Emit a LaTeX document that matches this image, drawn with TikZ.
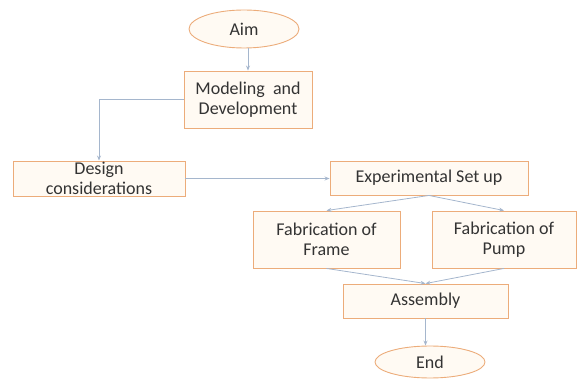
\documentclass[tikz,border=0pt]{standalone}
\usepackage{fontspec}
\setmainfont{Carlito}
\usetikzlibrary{shapes.geometric,arrows.meta}
\definecolor{boxline}{RGB}{236,172,122}
\definecolor{boxfill}{RGB}{255,250,243}
\definecolor{flowline}{RGB}{165,182,205}
\begin{document}
\begin{tikzpicture}[x=1pt,y=-1pt,
  stage/.style={draw=boxline, fill=boxfill, line width=0.9pt, align=center,
    inner sep=0pt, font=\fontsize{18}{19.5}\selectfont, text=black!80},
  term/.style={stage, ellipse},
  flow/.style={draw=flowline, line width=0.8pt, -{Stealth[length=5pt,width=4pt]}}]
  \useasboundingbox (0,0) rectangle (578,379);

  % start and stop
  \node[term, minimum width=110pt, minimum height=38pt] (aim) at (244,29) {Aim};
  \node[term, minimum width=110pt, minimum height=32pt] (end) at (430,362) {End};

  % stages
  \node[stage, minimum width=128pt, minimum height=57pt] (model) at (248,99.5) {Modeling\ \ and\\Development};
  \node[stage, minimum width=172pt, minimum height=35pt] (design) at (99,178.5) {Design\\considerations};
  \node[stage, minimum width=198pt, minimum height=34pt] (exper) at (429,178) {Experimental Set up};
  \node[stage, minimum width=147pt, minimum height=57pt] (frame) at (326.5,239.5) {Fabrication of\\Frame};
  \node[stage, minimum width=144pt, minimum height=57pt] (pump) at (504,239.5) {Fabrication of\\Pump};
  \node[stage, minimum width=165pt, minimum height=34pt] (asm) at (425.5,301) {Assembly};

  % flow
  \draw[flow] (model.north |- aim.south) -- (model.north);
  \draw[flow] (model.west) -| (design.north);
  \draw[flow] (design.east) -- (design.east -| exper.west);
  \draw[flow] (exper.south) -- (frame.north);
  \draw[flow] (exper.south) -- (pump.north);
  \draw[flow] (frame.south) -- (asm.north);
  \draw[flow] (pump.south) -- (asm.north);
  \draw[flow] (asm.south) -- (asm.south |- end.north);
\end{tikzpicture}
\end{document}
